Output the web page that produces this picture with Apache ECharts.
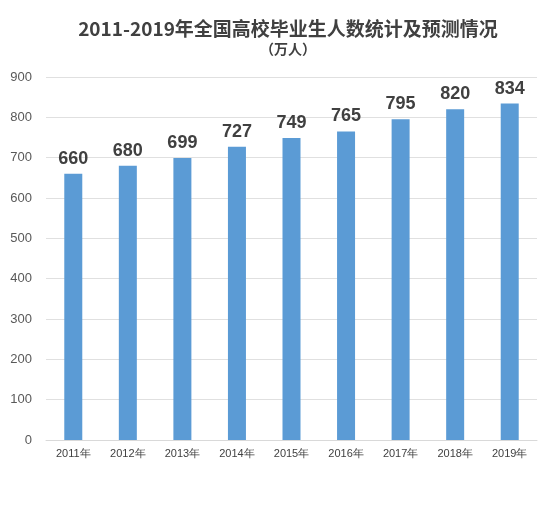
<!DOCTYPE html>
<html>
<head>
<meta charset="utf-8">
<script src="https://cdn.jsdelivr.net/npm/echarts@6/dist/echarts.min.js"></script>
<style>html,body{margin:0;padding:0;background:#fff}#c{width:552px;height:522px}</style>
</head>
<body>
<div id="c"></div>
<script>
const years = ["2011年", "2012年", "2013年", "2014年", "2015年", "2016年", "2017年", "2018年", "2019年"];
const graduates = [660, 680, 699, 727, 749, 765, 795, 820, 834];

const chart = echarts.init(document.getElementById("c"));
chart.setOption({
  backgroundColor: "#fff",
  title: {
    text: "2011-2019年全国高校毕业生人数统计及预测情况",
    subtext: "（万人）",
    left: 283,
    textAlign: "center",
    top: 14,
    itemGap: 4,
    textStyle: { fontSize: 19, fontWeight: "bold", color: "#404040", fontFamily: "Noto Sans CJK SC" },
    subtextStyle: { fontSize: 14, fontWeight: "bold", color: "#404040", fontFamily: "Noto Sans CJK SC" },
  },
  grid: { left: 46, right: 15, top: 77, bottom: 82 },
  xAxis: {
    type: "category",
    data: years,
    axisTick: { show: false },
    axisLine: { lineStyle: { color: "#d9d9d9" } },
    axisLabel: { color: "#404040", fontSize: 11, margin: 8 },
  },
  yAxis: {
    type: "value",
    min: 0,
    max: 900,
    interval: 100,
    axisLabel: { color: "#595959", fontSize: 13, margin: 14 },
    splitLine: { lineStyle: { color: "#e0e0e0" } },
  },
  series: [
    {
      type: "bar",
      data: graduates,
      barWidth: 18,
      itemStyle: { color: "#5b9bd5" },
      label: {
        show: true,
        position: "top",
        distance: 6,
        color: "#404040",
        fontSize: 18,
        fontWeight: "bold",
      },
    },
  ],
});
</script>
</body>
</html>
